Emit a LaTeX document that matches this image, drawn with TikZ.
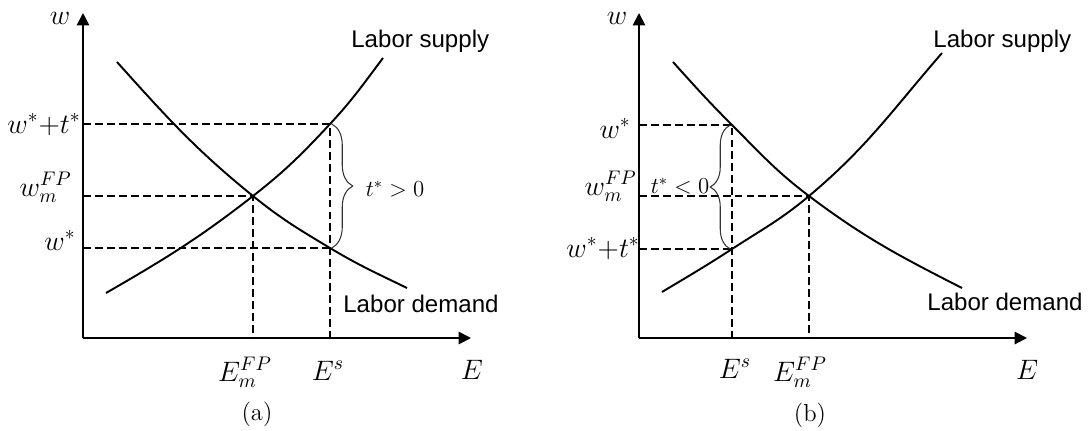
\RequirePackage{fix-cm}
\documentclass[tikz,border=0pt]{standalone}
\usepackage{amsmath,amssymb}
\usepackage{fontspec}
\setsansfont{Liberation Sans}
\usetikzlibrary{arrows.meta,decorations.pathreplacing}

\tikzset{
  axis/.style={line width=1.1pt,-{Triangle[length=7pt,width=7pt]}},
  curve/.style={line width=1.1pt},
  guide/.style={line width=0.6pt,dash pattern=on 4.5pt off 2.3pt},
  bracket/.style={line width=0.6pt,black!80,decorate,decoration={brace,amplitude=#1}},
  mlbl/.style={inner sep=0pt,font=\fontsize{16}{19}\selectfont},
  tlbl/.style={inner sep=0pt,font=\fontsize{13}{16}\selectfont},
  slbl/.style={inner sep=0pt,font=\sffamily\fontsize{13.7}{16}\selectfont},
  panelcap/.style={inner sep=0pt,font=\fontsize{14}{17}\selectfont}
}

\begin{document}
\begin{tikzpicture}[x=0.02cm,y=-0.02cm]
\useasboundingbox (0,0) rectangle (1091,430);

% (a) t* > 0
\coordinate (Oa) at (83,338);
\coordinate (eqa) at (253,196);
\coordinate (hia) at (330,124);
\coordinate (loa) at (330,248);
\draw[guide] (Oa |- hia) -- (hia) -- (hia |- Oa);
\draw[guide] (Oa |- eqa) -- (eqa) -- (eqa |- Oa);
\draw[guide] (Oa |- loa) -- (loa);
\draw[curve] (106,293) to[out=30,in=218] (eqa) to[out=38,in=227] (hia) to[out=47,in=233] (383,58);
\draw[curve] (117,62) to[out=-48,in=141] (eqa) to[out=-39,in=149] (loa) to[out=-31,in=154] (407,288);
\draw[axis] (Oa) -- (83,13);
\draw[axis] (Oa) -- (471,338);
\draw[bracket=0.42cm] ([xshift=1pt]hia) -- ([xshift=1pt]loa);
\node[tlbl] (ta) at (395,189) {$t^{*}>0$};
\node[mlbl] (wa) at (60,18) {$w$};
\node[mlbl] (Ea) at (472,370) {$E$};
\node[mlbl,anchor=base east] (wta) at (81,133) {$w^{*}{+}t^{*}$};
\node[mlbl,anchor=base east] (wfa) at (72,196) {$w_m^{FP}$};
\node[mlbl,anchor=base east] (wsa) at (76,250) {$w^{*}$};
\node[mlbl,anchor=base] (Efa) at (245,381) {$E_m^{FP}$};
\node[mlbl,anchor=base] (Esa) at (328,380) {$E^{s}$};
\node[slbl,anchor=base west] (supa) at (351,47) {Labor supply};
\node[slbl,anchor=base west] (dema) at (343,312) {Labor demand};
\node[panelcap] (capa) at (257,414) {(a)};

% (b) t* < 0
\coordinate (Ob) at (639,338);
\coordinate (eqb) at (809,196);
\coordinate (hib) at (732,125);
\coordinate (lob) at (732,249);
\draw[guide] (Ob |- hib) -- (hib) -- (hib |- Ob);
\draw[guide] (Ob |- eqb) -- (eqb) -- (eqb |- Ob);
\draw[guide] (Ob |- lob) -- (lob);
\draw[curve] (662,292) to[out=31,in=213] (lob) to[out=33,in=220] (eqb) to[out=40,in=229] (942,53);
\draw[curve] (673,62) to[out=-48,in=135] (hib) to[out=-45,in=143] (eqb) to[out=-37,in=153] (962,288);
\draw[axis] (Ob) -- (639,13);
\draw[axis] (Ob) -- (1027,338);
\draw[bracket=0.4cm] ([xshift=-1pt]lob) -- ([xshift=-1pt]hib);
\node[tlbl] (tb) at (680,186) {$t^{*}<0$};
\node[mlbl] (wb) at (617,18) {$w$};
\node[mlbl] (Eb) at (1027,370) {$E$};
\node[mlbl,anchor=base east] (wsb) at (631,138) {$w^{*}$};
\node[mlbl,anchor=base east] (wfb) at (637,195) {$w_m^{FP}$};
\node[mlbl,anchor=base east] (wtb) at (640,257) {$w^{*}{+}t^{*}$};
\node[mlbl,anchor=base] (Esb) at (735,378) {$E^{s}$};
\node[mlbl,anchor=base] (Efb) at (800,381) {$E_m^{FP}$};
\node[slbl,anchor=base west] (supb) at (933,47) {Labor supply};
\node[slbl,anchor=base west] (demb) at (927,310) {Labor demand};
\node[panelcap] (capb) at (810,415) {(b)};
\end{tikzpicture}
\end{document}
